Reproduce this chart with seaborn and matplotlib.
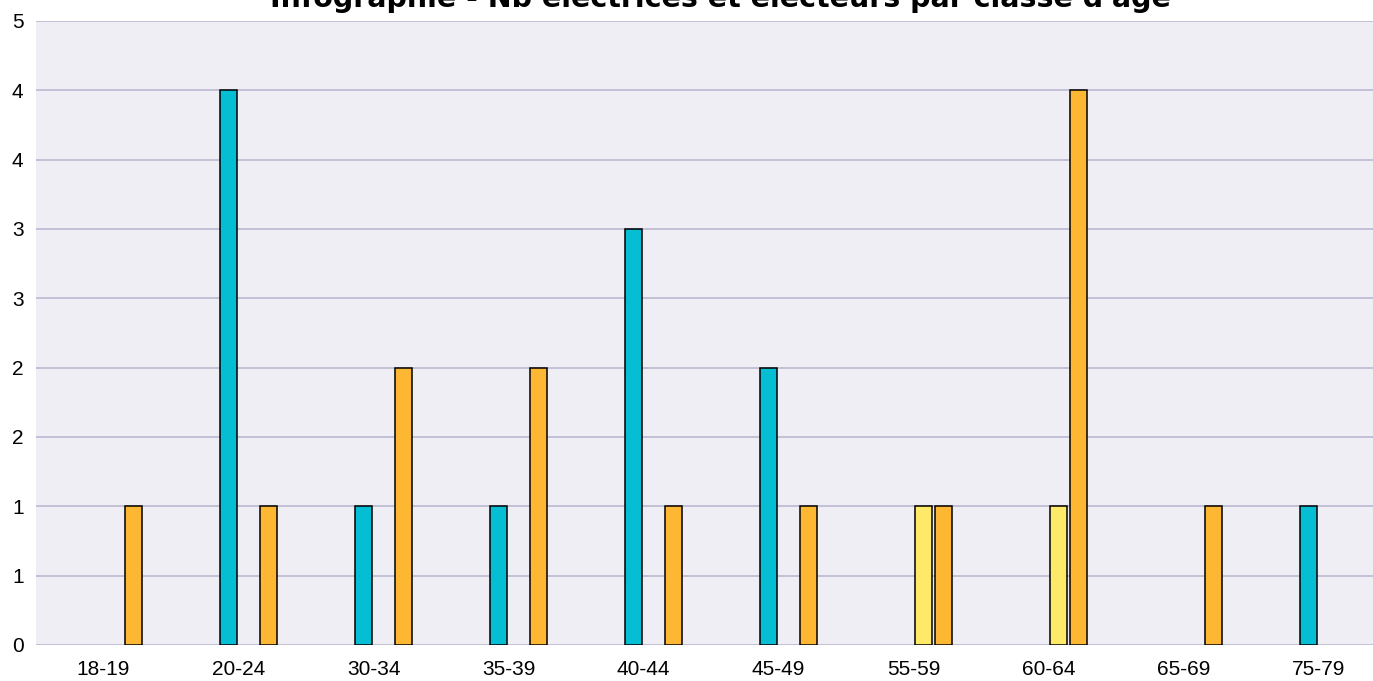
import matplotlib
matplotlib.use('Agg')
import matplotlib.pyplot as plt
import matplotlib.ticker as mticker
import numpy as np
import pandas as pd
import seaborn as sns

# Age classes and counts per series (NaN = no bar)
age_classes = ['18-19', '20-24', '30-34', '35-39', '40-44',
               '45-49', '55-59', '60-64', '65-69', '75-79']
series_names = ['Série 1', 'Série 2', 'Série 3', 'Série 4']
serie_1 = [np.nan] * 10
serie_2 = [np.nan, 4, 1, 1, 3, 2, np.nan, np.nan, np.nan, 1]
serie_3 = [np.nan, np.nan, np.nan, np.nan, np.nan, np.nan, 1, 1, np.nan, np.nan]
serie_4 = [1, 1, 2, 2, 1, 1, 1, 4, 1, np.nan]
colors = ['#8e8e8e', '#06bed3', '#ffe968', '#feb733']

title = "Infographie - Nb électrices et électeurs par classe d'âge"

# Long format for seaborn
rows = []
for name, vals in zip(series_names, [serie_1, serie_2, serie_3, serie_4]):
    for age, v in zip(age_classes, vals):
        rows.append({'Classe': age, 'Série': name, 'Nb': v})
df = pd.DataFrame(rows).dropna()

sns.set_style('whitegrid', {'axes.facecolor': '#efeef4',
                            'grid.color': '#b6b4cc'})
plt.rcParams['font.family'] = ['Liberation Sans', 'DejaVu Sans']

fig = plt.figure(figsize=(13.73, 6.81), dpi=100)
ax = fig.add_axes([36 / 1373, 36 / 681, 1350 / 1373, 624 / 681])

sns.barplot(data=df, x='Classe', y='Nb', hue='Série', order=age_classes,
            hue_order=series_names, palette=dict(zip(series_names, colors)),
            saturation=1, width=0.6, gap=0.16, edgecolor='black',
            linewidth=1.1, errorbar=None, legend=False, ax=ax)

ax.set_ylim(0, 4.5)
ax.set_yticks(np.arange(0, 5, 0.5))
ax.yaxis.set_major_formatter(
    mticker.FuncFormatter(lambda v, p: f'{int(np.floor(v + 0.5))}'))
ax.grid(axis='y', color='#b6b4cc', linewidth=1.1)
ax.grid(axis='x', visible=False)
for s in ax.spines.values():
    s.set_visible(False)
ax.tick_params(axis='both', length=0, labelsize=15, colors='black')
ax.tick_params(axis='y', pad=9)
ax.tick_params(axis='x', pad=11)
ax.set_xlabel('')
ax.set_ylabel('')

fig.text(720 / 1373, 1 - 7 / 681, title, ha='center', va='baseline',
         fontsize=20.5, fontweight='bold', family='DejaVu Sans', color='black')

fig.savefig('out.png', dpi=100)
